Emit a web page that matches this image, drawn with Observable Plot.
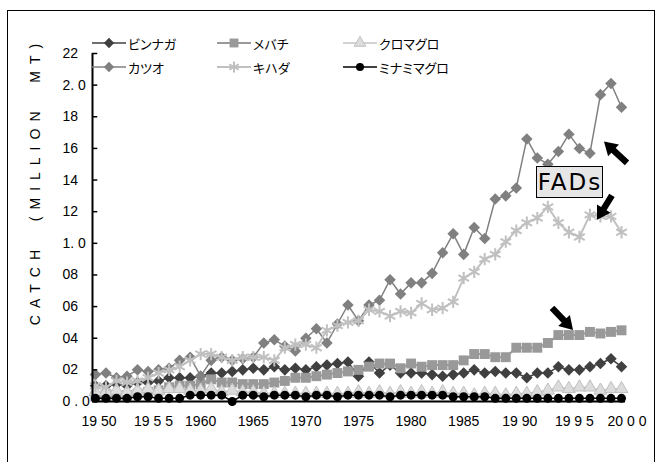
<!DOCTYPE html>
<html><head><meta charset="utf-8">
<script src="https://cdn.jsdelivr.net/npm/d3@7"></script>
<script src="https://cdn.jsdelivr.net/npm/@observablehq/plot@0.6"></script>
<style>
body{margin:0;background:#fff;overflow:hidden}
#wrap{position:relative;width:661px;height:462px;overflow:hidden;font-family:"Liberation Sans",Arial,sans-serif;background:#fff}
#border{position:absolute;left:7px;top:10px;width:648px;height:470px;border:1px solid #000;box-sizing:border-box;pointer-events:none}
.leg{position:absolute;display:flex;align-items:center;font-family:"Noto Sans CJK JP",sans-serif;font-size:13px;font-feature-settings:"palt";color:#000;white-space:nowrap;line-height:1}
.leg svg{display:block;margin-right:2px}
#ytitle{position:absolute;left:35px;top:181px;transform:translate(-50%,-50%) rotate(-90deg);font-size:14px;letter-spacing:7px;white-space:pre;color:#000}
#fads{position:absolute;box-sizing:border-box;border:1px solid #000;background:#e6e6e6;font-size:23px;letter-spacing:2px;display:flex;align-items:center;justify-content:center;font-family:"DejaVu Sans",sans-serif}
</style>
</head><body>
<div id="wrap"></div>
<script>
// ---- data ----
const years = d3.range(1950, 2001);
const albacore = [0.10,0.10,0.11,0.10,0.12,0.12,0.13,0.15,0.15,0.15,
  0.16,0.18,0.18,0.19,0.20,0.21,0.20,0.22,0.20,0.21,
  0.20,0.22,0.23,0.24,0.25,0.16,0.25,0.18,0.23,0.18,
  0.18,0.18,0.17,0.16,0.17,0.18,0.20,0.18,0.19,0.18,
  0.18,0.15,0.18,0.18,0.22,0.20,0.20,0.22,0.24,0.27,
  0.22];
const bigeye = [0.03,0.03,0.04,0.04,0.05,0.06,0.07,0.09,0.10,0.10,
  0.11,0.14,0.12,0.12,0.11,0.11,0.11,0.12,0.13,0.15,
  0.15,0.16,0.17,0.18,0.19,0.20,0.22,0.24,0.24,0.21,
  0.24,0.22,0.23,0.23,0.23,0.26,0.30,0.30,0.28,0.28,
  0.34,0.34,0.34,0.37,0.42,0.42,0.42,0.44,0.43,0.44,
  0.45];
const bluefin = [0.06,0.06,0.07,0.06,0.07,0.08,0.07,0.08,0.08,0.07,
  0.07,0.08,0.06,0.07,0.06,0.06,0.05,0.05,0.05,0.05,
  0.05,0.05,0.05,0.05,0.05,0.06,0.05,0.06,0.05,0.06,
  0.05,0.06,0.05,0.06,0.05,0.05,0.04,0.05,0.05,0.04,
  0.05,0.05,0.06,0.07,0.09,0.08,0.09,0.09,0.07,0.08,
  0.08];
const skipjack = [0.17,0.18,0.15,0.16,0.20,0.19,0.20,0.21,0.26,0.28,
  0.16,0.26,0.28,0.26,0.27,0.28,0.37,0.39,0.35,0.32,
  0.40,0.46,0.37,0.49,0.61,0.51,0.61,0.64,0.77,0.68,
  0.75,0.75,0.81,0.94,1.06,0.93,1.10,1.03,1.28,1.30,
  1.35,1.66,1.54,1.50,1.58,1.69,1.60,1.57,1.94,2.01,
  1.86];
const yellowfin = [0.10,0.09,0.13,0.12,0.13,0.15,0.18,0.20,0.22,0.26,
  0.30,0.30,0.28,0.26,0.28,0.28,0.28,0.26,0.34,0.36,
  0.36,0.34,0.45,0.48,0.50,0.51,0.58,0.57,0.54,0.57,
  0.56,0.62,0.58,0.59,0.63,0.78,0.82,0.90,0.93,1.01,
  1.08,1.13,1.16,1.23,1.13,1.07,1.04,1.18,1.17,1.17,
  1.07];
const southern = [0.02,0.02,0.02,0.02,0.03,0.03,0.02,0.02,0.02,0.04,
  0.04,0.04,0.04,0.00,0.04,0.04,0.03,0.04,0.04,0.04,
  0.03,0.04,0.04,0.03,0.04,0.04,0.04,0.04,0.03,0.04,
  0.04,0.04,0.04,0.04,0.03,0.03,0.03,0.03,0.02,0.02,
  0.02,0.02,0.02,0.02,0.02,0.02,0.02,0.02,0.02,0.02,
  0.02];
const seriesNames = ["ビンナガ","メバチ","クロマグロ","カツオ","キハダ","ミナミマグロ"];
const yTicks = [0,0.2,0.4,0.6,0.8,1.0,1.2,1.4,1.6,1.8,2.0,2.2];
const yTickLabels = ["0 . 0","02","04","06","08","1. 0","12","14","16","18","2. 0","22"];
const xTickYears = [1960,1965,1970,1975,1980,1985];
const xTickLabels = ["1960","1965","1970","1975","1980","1985"];
const xOddYears = [1950,1955,1990,1995,2000];
const xOddLabels = ["19 50","19 5 5","19 90","19 9 5","20 0 0"];
const yTitle = "CATCH  (MILLION  MT)";
const noteText = "FADs";
const noteAt = {year:1995.15, value:1.386};
const arrows = [
  {x1:2000.57, y1:1.506, x2:1998.38, y2:1.64},
  {x1:1999.14, y1:1.30, x2:1997.72, y2:1.146},
  {x1:1993.44, y1:0.589, x2:1995.44, y2:0.449}
];

// ---- styles ----
const styles = [
  {color:"#404040", symbol:"diamond2", r:5.2, fill:"#404040", stroke:"none", lw:1.5},
  {color:"#999999", symbol:"square", r:5.6, fill:"#999999", stroke:"none", lw:2},
  {color:"#c4c4c4", symbol:"triangle", r:4.8, fill:"#dcdcdc", stroke:"#c0c0c0", lw:1.5},
  {color:"#808080", symbol:"diamond2", r:5.2, fill:"#808080", stroke:"none", lw:1.5},
  {color:"#c0c0c0", symbol:"asterisk", r:5.8, fill:"none", stroke:"#c0c0c0", lw:2},
  {color:"#000000", symbol:"circle", r:4.5, fill:"#000000", stroke:"none", lw:1.5}
];
const allValues = [albacore, bigeye, bluefin, skipjack, yellowfin, southern];
const xDomain = [1949.72, 2000.38];

const marks = [];
allValues.forEach((vals, k) => {
  const s = styles[k];
  const rows = years.map((yr, i) => ({year: yr, v: vals[i]}));
  marks.push(Plot.line(rows, {x:"year", y:"v", stroke:s.color, strokeWidth:s.lw}));
  marks.push(Plot.dot(rows, {x:"year", y:"v", symbol:()=>s.symbol, r:s.r, fill:s.fill, stroke:s.stroke, strokeWidth: s.symbol==="asterisk"?2:1}));
});

const plot = Plot.plot({
  width: 661, height: 462,
  marginLeft: 92, marginRight: 36, marginTop: 53, marginBottom: 61,
  x: {domain: xDomain, axis: null},
  y: {domain: [0, 2.2], axis: null},
  symbol: {type: "identity"},
  style: {fontFamily: "'Liberation Sans', Arial, sans-serif", fontSize: "14px", background: "transparent", color: "#000"},
  marks: [
    ...marks,
    Plot.ruleY(yTicks, {y: d => d, x1: xDomain[0], x2: xDomain[0] + 0.5, stroke: "#000", strokeWidth: 1.5}),
    Plot.ruleX([xDomain[0]], {stroke: "#000", strokeWidth: 2}),
    Plot.ruleY([0], {stroke: "#000", strokeWidth: 2}),
    Plot.text(yTicks, {y: d => d, text: (d, i) => yTickLabels[i], frameAnchor: "left", dx: -30, textAnchor: "start", fontSize: 14, fill: "#000"}),
    Plot.text(xTickYears, {x: d => d, text: (d, i) => xTickLabels[i], frameAnchor: "bottom", dy: 24, fontSize: 14, fill: "#000"}),
    Plot.text(xOddYears, {x: d => d, text: (d, i) => xOddLabels[i], frameAnchor: "bottom", dy: 24, dx: -14, textAnchor: "start", fontSize: 14, fill: "#000"})
  ]
});

const wrap = document.getElementById("wrap");
wrap.appendChild(plot);
plot.style.position = "absolute"; plot.style.left = "0"; plot.style.top = "0";

const sx = plot.scale("x"), sy = plot.scale("y");
// arrows
const g = d3.select(plot).append("g");
arrows.forEach(a => {
  const x1 = sx.apply(a.x1), y1 = sy.apply(a.y1), x2 = sx.apply(a.x2), y2 = sy.apply(a.y2);
  const dx = x2 - x1, dy = y2 - y1, L = Math.hypot(dx, dy), ux = dx / L, uy = dy / L, px = -uy, py = ux;
  const hw = 3.2, hh = 8, hl = 13;
  const bx = x2 - ux * hl, by = y2 - uy * hl;
  const pts = [[x1+px*hw,y1+py*hw],[bx+px*hw,by+py*hw],[bx+px*hh,by+py*hh],[x2,y2],[bx-px*hh,by-py*hh],[bx-px*hw,by-py*hw],[x1-px*hw,y1-py*hw]];
  g.append("polygon").attr("points", pts.map(p => p.join(",")).join(" ")).attr("fill", "#000");
});

// note box
const fads = document.createElement("div");
fads.id = "fads";
fads.textContent = noteText;
const bw = 67, bh = 32;
fads.style.left = (sx.apply(noteAt.year) - bw/2) + "px";
fads.style.top = (sy.apply(noteAt.value) - bh/2) + "px";
fads.style.width = bw + "px"; fads.style.height = bh + "px";
wrap.appendChild(fads);

// y title
const yt = document.createElement("div");
yt.id = "ytitle"; yt.textContent = yTitle;
wrap.appendChild(yt);

// legend
const legPos = [[92,43],[217,43],[343,43],[92,67],[217,67],[343,67]];
const symMap = {diamond2: d3.symbolDiamond2, square: d3.symbolSquare, triangle: d3.symbolTriangle, asterisk: d3.symbolAsterisk, circle: d3.symbolCircle};
seriesNames.forEach((name, k) => {
  const s = styles[k];
  const item = document.createElement("div");
  item.className = "leg";
  item.style.left = legPos[k][0] + "px";
  item.style.top = (legPos[k][1] - 8) + "px";
  item.style.height = "16px";
  const sv = d3.create("svg").attr("width", 34).attr("height", 16);
  sv.append("line").attr("x1", 0).attr("x2", 34).attr("y1", 8).attr("y2", 8).attr("stroke", s.color).attr("stroke-width", s.lw);
  sv.append("path").attr("transform", "translate(17,8)")
    .attr("d", d3.symbol(symMap[s.symbol], Math.PI * s.r * s.r * 0.8)())
    .attr("fill", s.fill).attr("stroke", s.stroke).attr("stroke-width", s.symbol==="asterisk"?2:1);
  item.appendChild(sv.node());
  const t = document.createElement("span");
  t.textContent = name;
  item.appendChild(t);
  wrap.appendChild(item);
});

const border = document.createElement("div");
border.id = "border";
wrap.appendChild(border);
</script>
</body></html>
